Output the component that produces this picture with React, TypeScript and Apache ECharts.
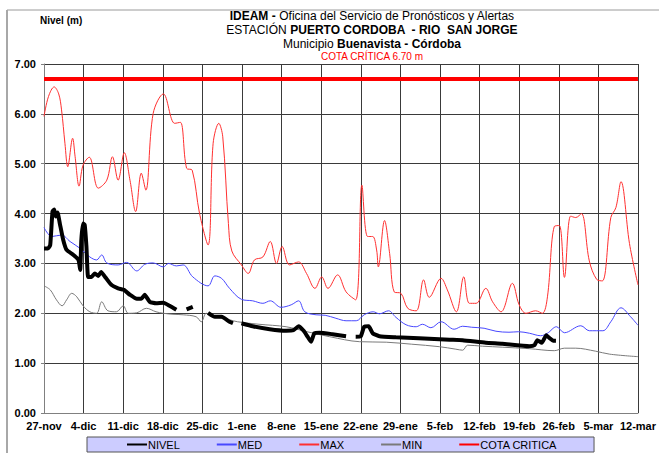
import React, { useEffect, useRef } from "react";
import * as echarts from "echarts";

// x positions are days counted from 27-nov (ticks every 7 days)
const tickLabels = [
  "27-nov", "4-dic", "11-dic", "18-dic", "25-dic", "1-ene", "8-ene", "15-ene",
  "22-ene", "29-ene", "5-feb", "12-feb", "19-feb", "26-feb", "5-mar", "12-mar",
];
const cotaCritica = 6.7;

const maxDays = [
  0, 0.8, 1.8, 2.6, 3.1, 3.7, 4.2, 5.06, 5.5, 6.2, 6.9, 8.0, 9.6, 11.1, 12.1, 13.1, 14.2, 15.2,
  16.2, 17.2, 18.0, 19.3, 21.1, 23.1, 24.1, 25.2, 26.2, 27.5, 29.0, 29.9, 30.9, 31.6, 32.6, 33.2,
  34.9, 36.1, 37.2, 38.7, 40.0, 41.1, 42.1, 43.4, 45.0, 46.4, 47.9, 49.1, 50.2, 51.9, 53.4, 55.1,
  56.2, 57.2, 58.1, 58.8, 59.1, 60.2, 61.1, 61.9, 63.1, 64.3, 65.8, 67.1, 68.1, 70.2, 71.3, 72.9,
  74.2, 75.2, 76.4, 78.1, 79.3, 80.8, 82.8, 84.0, 85.2, 86.9, 88.1, 89.0, 90.2, 91.1, 92.0, 93.1,
  94.0, 95.0, 96.4, 97.7, 98.7, 100.2, 101.1, 102.0, 103.5, 105,
];
const maxValues = [
  5.95, 6.35, 6.54, 6.4, 6.08, 5.41, 4.94, 5.51, 5.14, 4.55, 4.97, 5.13, 4.51, 4.67, 5.14, 4.67, 5.22, 4.67,
  4.04, 4.81, 4.47, 6.01, 6.4, 5.81, 5.83, 4.91, 4.87, 4.0, 3.37, 5.41, 5.81, 5.54, 3.8, 3.25,
  2.97, 2.8, 3.07, 3.13, 3.44, 3.0, 3.34, 2.97, 3.03, 2.8, 2.5, 2.73, 2.5, 2.77, 2.43, 2.27,
  4.57, 3.54, 3.54, 3.27, 2.93, 3.86, 3.2, 2.43, 2.4, 2.1, 2.05, 2.67, 2.32, 2.7, 2.47, 2.03,
  2.73, 2.2, 2.2, 2.5, 2.23, 2.03, 2.6, 2.17, 2.0, 2.05, 2.0, 2.33, 3.74, 3.76, 2.72, 3.95,
  3.92, 4.0, 3.05, 2.68, 2.65, 3.92, 4.12, 4.64, 3.4, 2.57,
];

const medDays = [
  0, 1.4, 3.1, 4.6, 6.4, 8.1, 9.3, 10.2, 11.1, 13.1, 14.6, 16.4, 17.8, 19.3, 21.1, 22.0, 23.4,
  24.6, 26.3, 29.0, 30.2, 31.4, 32.8, 34.9, 36.9, 38.7, 40.0, 41.9, 43.7, 45.0, 46.1, 48.1, 49.7,
  51.6, 53.4, 55.2, 56.6, 58.2, 59.3, 60.9, 62.2, 64.0, 65.8, 66.9, 68.4, 70.2, 72.5, 74.0, 75.6,
  77.8, 79.9, 82.2, 83.9, 85.8, 87.8, 89.0, 90.6, 92.0, 94.9, 96.4, 98.8, 100.2, 102.0, 103.7, 105,
];
const medValues = [
  3.72, 3.54, 3.57, 3.44, 3.3, 3.13, 3.07, 3.17, 3.01, 2.97, 3.02, 2.85, 2.98, 3.01, 2.93, 3.0, 2.95,
  2.97, 2.73, 2.55, 2.75, 2.7, 2.5, 2.28, 2.25, 2.2, 2.25, 2.12, 2.17, 2.25, 2.03, 1.97, 1.96,
  1.9, 1.85, 1.85, 1.97, 2.03, 1.99, 2.05, 1.92, 1.77, 1.73, 1.78, 1.71, 1.83, 1.68, 1.74, 1.72,
  1.7, 1.64, 1.62, 1.63, 1.6, 1.55, 1.6, 1.73, 1.61, 1.75, 1.65, 1.65, 1.83, 2.11, 1.93, 1.76,
];

const minDays = [
  0, 1.1, 2.2, 3.2, 4.0, 4.9, 5.8, 6.9, 8.1, 9.3, 10.2, 11.3, 12.8, 14.0, 14.9, 16.4, 18.1,
  19.8, 21.1, 22.8, 24.6, 26.9, 27.8, 28.7, 30.4, 32.8, 34.2, 38.0, 42.8, 46.5, 50.5, 55.8, 60.5,
  65.0, 69.9, 72.8, 74.0, 74.9, 77.5, 81.0, 85.8, 90.2, 92.0, 94.0, 97.5, 100.0, 105,
];
const minValues = [
  2.55, 2.47, 2.27, 2.15, 2.27, 2.4, 2.33, 2.15, 2.03, 2.0, 2.23, 2.05, 2.03, 2.15, 2.0, 2.01, 2.1,
  2.03, 2.0, 1.98, 1.97, 1.93, 1.83, 2.0, 1.93, 1.87, 1.83, 1.78, 1.73, 1.63, 1.53, 1.43, 1.42,
  1.38, 1.33, 1.28, 1.26, 1.36, 1.34, 1.32, 1.29, 1.25, 1.3, 1.3, 1.24, 1.18, 1.13,
];

// null = no reading (gap in the line)
const nivelDays = [
  0, 0.7, 1.1, 1.5, 1.8, 2.1, 2.4, 2.8, 3.4, 4.0, 5.2, 6.1, 6.4, 6.6, 6.9, 7.2, 7.5, 7.8, 8.4,
  9.0, 9.6, 10.1, 10.8, 11.9, 13.1, 14.1, 15.2, 16.4, 17.2, 17.8, 18.7, 19.8, 21.1, 22.2, 23.4,
  24.3, 25.2, 26.3, 27.5, 29.0, 30.2, 31.4, 32.8, 33.4, 34.1, 34.9, 36.9, 39.9, 42.8, 44.1, 45.0,
  45.9, 46.6, 47.2, 47.8, 48.7, 51.0, 53.4, 54.2, 55.1, 56.0, 56.6, 57.4, 58.1, 59.3, 62.2, 66.3,
  69.9, 71.7, 74.0, 78.1, 81.0, 85.8, 86.7, 87.2, 88.0, 88.8, 89.4, 90.0, 90.5,
];
const nivelValues = [
  3.3, 3.3, 3.37, 4.04, 4.08, 3.94, 4.02, 3.8, 3.47, 3.27, 3.17, 3.07, 2.87, 3.47, 3.8, 3.77, 3.34, 2.73, 2.73,
  2.8, 2.75, 2.83, 2.73, 2.57, 2.5, 2.47, 2.37, 2.29, 2.29, 2.37, 2.23, 2.2, 2.21, 2.15, 2.07,
  null, 2.08, 2.13, null, 2.01, 1.93, 1.93, 1.83, 1.8, null, 1.8, 1.74, 1.68, 1.65, 1.66, 1.74,
  1.65, 1.53, 1.43, 1.6, 1.61, 1.58, 1.54, null, 1.53, 1.54, 1.73, 1.74, 1.6, 1.54, 1.52, 1.5,
  1.48, 1.47, 1.46, 1.41, 1.39, 1.34, 1.36, 1.46, 1.41, 1.56, 1.5, 1.45, 1.45,
];

const zip = (xs: number[], ys: (number | null)[]) =>
  xs.map((x, i) => [x, ys[i] === null ? "-" : ys[i]]);

const FONT = "'Liberation Sans', Arial, sans-serif";

export default function App() {
  const ref = useRef<HTMLDivElement>(null);
  useEffect(() => {
    if (!ref.current) return;
    const chart = echarts.init(ref.current, null, { renderer: "svg" });
    const lastDay = (tickLabels.length - 1) * 7;
    chart.setOption({
      animation: false,
      backgroundColor: "#ffffff",
      textStyle: { fontFamily: FONT },
      graphic: [
        { type: "line", shape: { x1: 7, y1: 10, x2: 659, y2: 10 }, style: { stroke: "#9a9a9a", lineWidth: 1 } },
        { type: "line", shape: { x1: 7, y1: 10, x2: 7, y2: 453 }, style: { stroke: "#a8a8a8", lineWidth: 2 } },
        {
          type: "text", x: 40, y: 20,
          style: { text: "Nivel (m)", font: `bold 10px ${FONT}`, fill: "#000", verticalAlign: "middle" },
        },
        {
          type: "text", x: 372, y: 16,
          style: {
            text: "{b|IDEAM -} {n|Oficina del Servicio de Pronósticos y Alertas}",
            align: "center", verticalAlign: "middle",
            rich: {
              b: { fontFamily: FONT, fontSize: 12, fontWeight: "bold", fill: "#000" },
              n: { fontFamily: FONT, fontSize: 12, fill: "#000" },
            },
          },
        },
        {
          type: "text", x: 372, y: 30,
          style: {
            text: "{n|ESTACIÓN} {b|PUERTO CORDOBA  - RIO  SAN JORGE}",
            align: "center", verticalAlign: "middle",
            rich: {
              b: { fontFamily: FONT, fontSize: 12, fontWeight: "bold", fill: "#000" },
              n: { fontFamily: FONT, fontSize: 12, fill: "#000" },
            },
          },
        },
        {
          type: "text", x: 372, y: 44,
          style: {
            text: "{n|Municipio} {b|Buenavista - Córdoba}",
            align: "center", verticalAlign: "middle",
            rich: {
              b: { fontFamily: FONT, fontSize: 12, fontWeight: "bold", fill: "#000" },
              n: { fontFamily: FONT, fontSize: 12, fill: "#000" },
            },
          },
        },
        {
          type: "text", x: 372, y: 56,
          style: {
            text: "COTA CRÍTICA 6.70 m",
            font: `10px 'Liberation Sans Narrow', ${FONT}`,
            fill: "#ff0000", align: "center", verticalAlign: "middle",
          },
        },
      ],
      grid: { left: 44, right: 20, top: 64, bottom: 40 },
      legend: {
        left: 87, top: 437,
        padding: [2, 37, 2, 39],
        itemGap: 36, itemWidth: 20, itemHeight: 8,
        backgroundColor: "#ccccff", borderColor: "#555555", borderWidth: 1,
        itemStyle: { opacity: 0 },
        textStyle: { fontFamily: FONT, fontSize: 11, color: "#000", padding: [0, 0, 0, -4] },
        selectedMode: false,
        data: ["NIVEL", "MED", "MAX", "MIN", "COTA CRITICA"],
      },
      xAxis: {
        type: "value", min: 0, max: lastDay, interval: 7,
        axisLine: { lineStyle: { color: "#808080", width: 1 } },
        axisTick: { show: false },
        splitLine: { show: true, lineStyle: { color: "#3a3a3a", width: 1 } },
        axisLabel: {
          margin: 7, fontFamily: FONT, fontSize: 11, fontWeight: "bold", color: "#000",
          showMinLabel: true, showMaxLabel: true,
          formatter: (v: number) => tickLabels[Math.round(v / 7)] ?? "",
        },
      },
      yAxis: {
        type: "value", min: 0, max: 7, interval: 1,
        axisLine: { show: true, lineStyle: { color: "#808080", width: 1 } },
        axisTick: { show: true, length: 3, lineStyle: { color: "#808080" } },
        splitLine: { show: true, lineStyle: { color: "#3a3a3a", width: 1 } },
        axisLabel: {
          margin: 8, fontFamily: FONT, fontSize: 11, fontWeight: "bold", color: "#000",
          formatter: (v: number) => v.toFixed(2),
        },
      },
      series: [
        {
          name: "COTA CRITICA", type: "line", symbol: "none", silent: true, z: 2,
          data: [[0, cotaCritica], [lastDay, cotaCritica]],
          lineStyle: { color: "#ff0000", width: 4 }, itemStyle: { color: "#ff0000" },
        },
        {
          name: "MAX", type: "line", symbol: "none", silent: true, smooth: 0.35, z: 3,
          data: zip(maxDays, maxValues),
          lineStyle: { color: "#ff3030", width: 1 }, itemStyle: { color: "#ff3030" },
        },
        {
          name: "MED", type: "line", symbol: "none", silent: true, smooth: 0.35, z: 3,
          data: zip(medDays, medValues),
          lineStyle: { color: "#4848ff", width: 1 }, itemStyle: { color: "#4848ff" },
        },
        {
          name: "MIN", type: "line", symbol: "none", silent: true, smooth: 0.35, z: 3,
          data: zip(minDays, minValues),
          lineStyle: { color: "#7a7a7a", width: 1 }, itemStyle: { color: "#7a7a7a" },
        },
        {
          name: "NIVEL", type: "line", symbol: "none", silent: true, smooth: 0.15, z: 4,
          connectNulls: false,
          data: zip(nivelDays, nivelValues),
          lineStyle: { color: "#000000", width: 4 }, itemStyle: { color: "#000000" },
        },
      ],
    });
    return () => chart.dispose();
  }, []);
  return (
    <div
      ref={ref}
      style={{ position: "absolute", left: 0, top: 0, width: 659, height: 453 }}
    />
  );
}
